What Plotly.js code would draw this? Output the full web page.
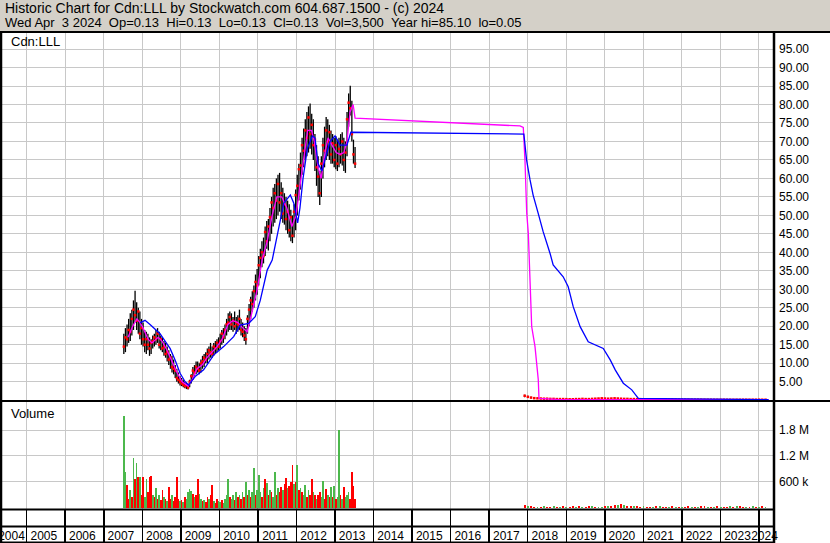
<!DOCTYPE html>
<html><head><meta charset="utf-8">
<script src="https://cdn.plot.ly/plotly-3.0.1.min.js"></script>
<style>html,body{margin:0;padding:0;background:#fff;overflow:hidden}#chart{width:830px;height:543px}</style>
</head><body><div id="chart"></div>
<script>
// ---------------- DATA ----------------
const priceStart = 2007.52, priceStep = 1/24;   // half-monthly bars
const priceLow = [12.5,13,14.5,15.5,16,17.5,19,21,19,18,16.5,15,14.5,13,12.5,13.5,12,12.5,14,14.5,15,15.5,14,13.5,13,12,11.5,10.5,9.5,8.5,7.5,7,6,5,4.5,4,3.8,3.5,3.2,3,2.9,3.5,4.5,5.5,6.5,7,7.5,7,7.5,8.5,9,10,10,11,11.5,11.5,12,12.5,13,13.5,14,15,15.5,16.5,17.5,18.5,19,19,18.5,19,18,18.5,19,17.5,17,16,15,18,20,22,24,25,27,28.5,31,33,36,37,39,41,40.5,43,45,47,48,49,50,51,49,48,47.5,46,45,44,43,42.5,44,46,50,54,57,61,63,65,66,67,68,66.5,65,62,58,55,52.8,55,60,63,65,66,65,64,64,63,62.5,62,63,64,63.5,62,61.5,66,74,77,70,64,62.8];
const priceHigh = [18,19.5,20.5,22,23.5,24.5,27,29.6,26.5,25,24,22,21,19,18.5,18,17,16.5,17.5,18,19,19.5,18.5,17.5,17,16,15.5,14.5,13.5,12.5,12,11,9.5,8.5,7.5,6.5,6,5.5,5,4.8,4.5,5.5,7,9,9.5,10.5,10.5,10,11,12,12.5,13,14,14.5,15.5,14.5,15.5,16,16.5,17,18,19,19.5,20.5,22,23.5,24,23.5,22.5,24,22.5,23,24.5,22,21,20,19.5,23,26,28,29.5,31,34,35.5,39,41,43,44,47,48.5,49,52,55,57.5,58.5,60,61,61.5,59,57.5,56,55,54,53,51.5,50,53,57,61,64,67,71,73.5,76,78,79.5,80.3,77.5,76,72,69,66,62,66,71,74,76.6,76,74.5,73,72,71,71.5,70.5,71,72,72.5,71,70,78,83,85.1,81,70.5,68.5];
const priceClose = [14.5,17,16.5,19,18.5,22,24.5,23,21.5,24,18,19.5,16.5,15,16.5,15,14,15.5,16,17,16.5,18,15,16.5,14,14.5,12.5,13,11,11.5,9,8.5,8,6,5.5,5,4.5,4.2,3.8,4,3.4,5,6.5,8,7.5,9,8.5,8,10,10.5,11.5,11,12.5,13.5,13,12.5,14.5,14,15.5,14.5,16,18,17,19,20.5,21,22.5,20.5,21.5,20,21,20.5,22,19,18.5,17.5,16.5,22,24.5,27,26,29.5,32,31,36.5,38.5,40,39,45.5,43,47,49.5,53.5,52,56,54,58.5,53.5,56,50.5,53,49,51,46,49.5,44.5,51,55.5,58,62.5,63.5,69,67.5,73,71,76.5,72,74.5,69,70.5,63,60.5,56,64,69,67.5,73,70,72.5,66.5,69.5,65,69,64,68,66.5,70,65,67,76,80.5,79,72,66.5,64];

const postStart = 2017.92, postStep = 1/12;      // monthly, after trading resumed
const postHigh  = [1.5,1.2,0.9,0.7,0.65,0.6,0.55,0.5,0.45,0.45,0.4,0.4,0.4,0.35,0.35,0.35,0.4,0.4,0.45,0.4,0.4,0.45,0.5,0.6,0.65,0.6,0.55,0.6,0.65,0.6,0.5,0.45,0.45,0.4,0.4,0.4,0.35,0.35,0.3,0.3,0.28,0.28,0.26,0.26,0.24,0.24,0.26,0.24,0.2,0.2,0.2,0.2,0.18,0.18,0.2,0.18,0.17,0.17,0.16,0.16,0.15,0.15,0.16,0.15,0.15,0.14,0.15,0.15,0.16,0.16,0.15,0.16,0.15,0.15,0.15,0.14];
const postLow   = [0.8,0.7,0.55,0.45,0.4,0.35,0.33,0.3,0.28,0.27,0.25,0.24,0.23,0.22,0.2,0.2,0.24,0.25,0.28,0.25,0.24,0.28,0.32,0.36,0.4,0.36,0.33,0.36,0.4,0.36,0.32,0.28,0.28,0.25,0.24,0.24,0.22,0.2,0.2,0.18,0.16,0.16,0.16,0.15,0.14,0.14,0.15,0.14,0.12,0.12,0.12,0.11,0.11,0.11,0.12,0.11,0.1,0.1,0.09,0.09,0.09,0.09,0.1,0.09,0.09,0.08,0.09,0.09,0.1,0.1,0.08,0.05,0.1,0.1,0.12,0.12];
const postClose = [1.2,0.9,0.7,0.55,0.5,0.45,0.4,0.4,0.35,0.35,0.3,0.3,0.3,0.28,0.25,0.25,0.3,0.3,0.35,0.3,0.3,0.35,0.4,0.45,0.5,0.45,0.4,0.45,0.5,0.45,0.4,0.35,0.35,0.3,0.3,0.3,0.28,0.25,0.25,0.22,0.2,0.2,0.2,0.2,0.18,0.18,0.2,0.18,0.15,0.15,0.15,0.15,0.14,0.14,0.15,0.14,0.13,0.13,0.13,0.12,0.12,0.12,0.13,0.12,0.12,0.11,0.12,0.12,0.13,0.13,0.12,0.13,0.13,0.13,0.13,0.13];

const maFastT = [2007.63,2007.75,2007.86,2007.94,2008.02,2008.15,2008.25,2008.41,2008.51,2008.64,2008.77,2008.90,2009.03,2009.19,2009.29,2009.42,2009.55,2009.68,2009.81,2009.94,2010.07,2010.22,2010.35,2010.48,2010.61,2010.72,2010.85,2010.98,2011.11,2011.24,2011.37,2011.49,2011.62,2011.75,2011.88,2011.99,2012.09,2012.19,2012.29,2012.39,2012.46,2012.56,2012.64,2012.74,2012.82,2012.92,2013.03,2013.13,2013.23,2013.31,2013.39,2013.47,2013.52,2017.80,2017.885,2017.93,2017.974,2018.015,2018.059,2018.103,2018.189,2018.233,2018.274,2018.292,2018.84,2024.25];
const maFast  = [17,20,22,21,19.5,16.5,15.5,17,16,13.5,10.5,7.5,5,3.8,5.5,8.5,9.5,11.5,13,14.5,16.5,20.5,21.5,21,19.5,18.5,24,30,38,43,50,55,55,52,47,50,58,66,73,73,70,63,60,67,71,69,67,66.5,67,70,78,80,76.3,74.2,73.8,64.5,50.6,45.2,31.6,19.9,14.5,9.1,5.5,0.5,0.15,0.13];

const maSlowT = [2007.94,2008.07,2008.20,2008.46,2008.59,2008.72,2008.85,2008.98,2009.11,2009.20,2009.37,2009.59,2009.85,2010.11,2010.37,2010.54,2010.76,2010.93,2011.06,2011.24,2011.37,2011.67,2011.84,2011.93,2012.03,2012.09,2012.17,2012.28,2012.41,2012.48,2012.56,2012.66,2012.74,2012.87,2013.00,2013.13,2013.31,2013.41,2017.90,2017.97,2018.06,2018.14,2018.27,2018.40,2018.58,2018.66,2018.92,2019.05,2019.18,2019.36,2019.57,2019.79,2019.96,2020.14,2020.27,2020.48,2020.70,2020.87,2024.25];
const maSlow  = [20.9,21.6,20.5,18,16,14,10.9,7.3,5,4.1,6.4,8.2,12.2,14.5,17.2,20.3,20.8,22.6,27,35.2,37.9,53.3,55.5,53.3,48,52,60,68,71.5,71,64,62,65,70,71.5,69,69,72.5,72.0,65,59.6,55.5,50.6,45.6,39.7,36.6,33.4,30.7,25.3,19.9,15.8,14.7,14.0,10.9,8.2,4.6,2.8,0.5,0.15];

// volume, thousands of shares; g = up, r = down
const volPre = [2120,815,523,200,415,250,1150,670,1040,715,715,300,715,250,670,350,715,740,300,250,460,200,300,180,415,250,200,150,480,200,300,150,250,715,200,150,180,120,250,200,350,440,380,325,250,300,670,325,200,150,180,120,250,200,300,530,150,100,200,150,120,180,100,200,300,670,250,200,300,180,350,250,300,200,350,250,600,300,400,250,350,920,300,400,760,350,250,450,670,580,300,400,350,250,830,300,450,350,480,400,550,690,450,500,600,1000,550,600,990,400,450,350,300,530,250,400,300,660,350,300,200,300,350,250,620,200,440,300,250,480,250,500,200,250,1800,300,200,480,250,300,350,200,830,500,200];
const volPreDir = 'ggrrgrgrgrgrrggrrrgrgrgrrgrgrrgrrrrgrgrggggrgrrggrgrrgrrgrrggrggggrggrgrgrgrgrgrggrgggrgrgrgrggrgrrgrrgrrrgrgrgrggrgrrgrgrrggrrgrgrgrggrgrgggrrrr';
const volPostStart = 2017.92, volPostStep = 1/12;   // monthly
const volPost = [60,35,25,20,15,20,25,15,20,30,20,15,25,20,15,30,20,25,15,20,25,30,20,15,20,25,30,45,60,50,70,55,40,35,30,25,20,25,20,15,20,30,25,20,15,20,25,20,15,20,15,25,20,15,20,25,30,20,15,20,25,20,15,20,25,20,30,25,20,15,20,25,20,15,25,20];
const volPostDir = 'rgrrgrgrrgrgrgrrgrgrrgrggrgrrgrgrrgrrgrrgrgrrgrgrgrrgrgrrgrgrgrrgrgrrgrgrgrg';

const priceTicks = [5,10,15,20,25,30,35,40,45,50,55,60,65,70,75,80,85,90,95];
const volTicks = [600000,1200000,1800000];
const volTickText = ['600 k','1.2 M','1.8 M'];
const yearLabels = ['2004','2005','2006','2007','2008','2009','2010','2011','2012','2013','2014','2015','2016','2017','2018','2019','2020','2021','2022','2023','2024'];

// ---------------- GEOMETRY ----------------
const W=830,H=543,L=2,R=57,T=33,B=34;
const PW=W-L-R, PH=H-T-B;
const px=x=>(x-L)/PW, py=y=>(H-B-y)/PH;
const XR=[2004.359,2024.364];
const FONT='"Liberation Sans", Arial, sans-serif';
const GRID='#c8c8c8';
const GREEN='#4cb84c', RED='#ff0000';

const preX = priceClose.map((_,i)=>priceStart+i*priceStep);
const postX = postClose.map((_,i)=>postStart+i*postStep);
const allX = preX.concat(postX);
const allH = priceHigh.concat(postHigh), allL = priceLow.concat(postLow), allC = priceClose.concat(postClose);

const volPreX = volPre.map((_,i)=>priceStart+i*priceStep);
const volPostX = volPost.map((_,i)=>volPostStart+i*volPostStep);
const volX = volPreX.concat(volPostX);
const volY = volPre.concat(volPost).map(v=>v*1000);
const volC = (volPreDir+volPostDir).split('').map(c=>c==='g'?GREEN:RED);
const volW = volPre.map(()=>priceStep).concat(volPost.map(()=>volPostStep*0.6));

const yearPos = yearLabels.map((s,i)=>{
  const y=+s;
  if(i===0) return y+0.606;
  if(i===yearLabels.length-1) return y+0.144;
  return y+0.444;
});

const traces = [
  {type:'scatter',mode:'markers',x:allX,y:allC,xaxis:'x',yaxis:'y',
   marker:{symbol:'square',size:2.5,color:RED,line:{width:0}},
   error_y:{type:'data',symmetric:false,array:allC.map((c,i)=>allH[i]-c),arrayminus:allC.map((c,i)=>c-allL[i]),color:'#000',thickness:1.3,width:0},
   hoverinfo:'skip',showlegend:false},
  {type:'scatter',mode:'lines',x:maFastT,y:maFast,xaxis:'x',yaxis:'y',line:{color:'#ff00ff',width:1.3},hoverinfo:'skip',showlegend:false},
  {type:'scatter',mode:'lines',x:maSlowT,y:maSlow,xaxis:'x',yaxis:'y',line:{color:'#0000ff',width:1.3},hoverinfo:'skip',showlegend:false},
  {type:'bar',x:volX,y:volY,width:volW,xaxis:'x2',yaxis:'y2',marker:{color:volC,line:{width:0}},hoverinfo:'skip',showlegend:false},
  {type:'scatter',mode:'markers',x:[],y:[],xaxis:'x3',yaxis:'y2',showlegend:false,hoverinfo:'skip'}
];

const shp=(x0,y0,x1,y1,w)=>({type:'line',xref:'paper',yref:'paper',x0:px(x0),y0:py(y0),x1:px(x1),y1:py(y1),line:{color:'#000',width:w}});

const layout = {
  width:W,height:H,margin:{l:L,r:R,t:T,b:B,pad:0},
  paper_bgcolor:'#ffffff',plot_bgcolor:'#ffffff',
  showlegend:false,bargap:0,
  font:{family:FONT,size:12,color:'#000'},
  xaxis:{anchor:'y',domain:[0,1],range:XR,tickmode:'linear',tick0:2005,dtick:1,showgrid:true,gridcolor:GRID,gridwidth:1,
         showticklabels:false,ticks:'',zeroline:false,showline:false,fixedrange:true},
  yaxis:{anchor:'x',domain:[py(401),1],range:[-0.22,99.35],side:'right',tickmode:'array',tickvals:priceTicks,
         ticktext:priceTicks.map(v=>v.toFixed(2)),showgrid:true,gridcolor:GRID,gridwidth:1,zeroline:false,showline:false,
         ticks:'',ticklabelstandoff:5,tickfont:{family:FONT,size:12,color:'#000'},fixedrange:true},
  xaxis2:{anchor:'y2',domain:[0,1],range:XR,tickmode:'linear',tick0:2005,dtick:1,showgrid:true,gridcolor:GRID,gridwidth:1,
          showticklabels:false,ticks:'outside',ticklen:34,tickwidth:1.5,tickcolor:'#000',zeroline:false,showline:false,fixedrange:true},
  yaxis2:{anchor:'x2',domain:[0,py(402)],range:[-34884,2453488],side:'right',tickmode:'array',tickvals:volTicks,ticktext:volTickText,
          showgrid:true,gridcolor:GRID,gridwidth:1,zeroline:false,showline:false,ticks:'',ticklabelstandoff:5,
          tickfont:{family:FONT,size:12,color:'#000'},fixedrange:true},
  xaxis3:{overlaying:'x2',anchor:'y2',side:'bottom',range:XR,tickmode:'array',tickvals:yearPos,ticktext:yearLabels,
          showgrid:false,zeroline:false,showline:false,ticks:'',tickangle:0,ticklabeloverflow:'allow',ticklabelstandoff:18,
          tickfont:{family:FONT,size:12,color:'#000'},fixedrange:true},
  shapes:[
    {type:'rect',xref:'paper',yref:'paper',x0:px(0),x1:px(830),y0:py(0),y1:py(32),fillcolor:'#d4d0c8',line:{width:0},layer:'below'},
    shp(0,32,830,32,2),
    shp(0,401,830,401,2),
    shp(0,509.5,774,509.5,2),
    shp(0,526.5,774,526.5,2),
    shp(0,542.5,774,542.5,2),
    shp(1,32,1,543,2.5),
    shp(774,32,774,543,2.5)
  ],
  annotations:[
    {xref:'paper',yref:'paper',x:px(3),y:py(8),xanchor:'left',yanchor:'middle',showarrow:false,
     text:'Historic Chart for Cdn:LLL by Stockwatch.com 604.687.1500 - (c) 2024',font:{family:FONT,size:14,color:'#000'}},
    {xref:'paper',yref:'paper',x:px(3),y:py(22),xanchor:'left',yanchor:'middle',showarrow:false,
     text:'Wed Apr \u00a03 2024 \u00a0Op=0.13 \u00a0Hi=0.13 \u00a0Lo=0.13 \u00a0Cl=0.13 \u00a0Vol=3,500 \u00a0Year hi=85.10 \u00a0lo=0.05',font:{family:FONT,size:13,color:'#000'}},
    {xref:'paper',yref:'paper',x:px(9),y:py(41),xanchor:'left',yanchor:'middle',showarrow:false,text:'Cdn:LLL',font:{family:FONT,size:13,color:'#000'}},
    {xref:'paper',yref:'paper',x:px(9),y:py(413),xanchor:'left',yanchor:'middle',showarrow:false,text:'Volume',font:{family:FONT,size:13,color:'#000'}}
  ]
};

Plotly.newPlot('chart',traces,layout,{staticPlot:true,displayModeBar:false});
</script></body></html>
